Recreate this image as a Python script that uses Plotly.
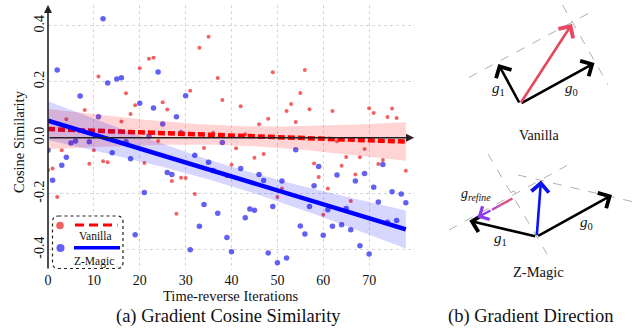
import numpy as np
import plotly.graph_objects as go

W, H = 639, 329

# ---------------- data ----------------
iters_vanilla = [0, 1, 2, 3, 4, 8, 9, 10, 11, 12, 13, 14, 16, 17, 18, 19, 20, 21, 22, 23, 24, 25,
                 26, 27, 28, 29, 30, 31, 32, 33, 34, 35, 36, 37, 38, 39, 40, 41, 42, 43, 45, 46,
                 47, 48, 49, 50, 51, 52, 53, 54, 55, 56, 57, 58, 59, 60, 61, 62, 63, 64, 65, 66,
                 67, 68, 69, 70, 71, 72, 73, 74, 75, 76, 78]
cos_vanilla = [-0.115, -0.11, -0.212, -0.045, 0.066, 0.099, -0.093, -0.045, 0.219, -0.084, -0.088,
               -0.007, 0.058, 0.159, 0.085, 0.116, 0.248, -0.09, 0.282, 0.286, -0.012, 0.127,
               0.101, -0.155, -0.272, -0.143, -0.144, 0.168, -0.201, 0.321, -0.037, 0.361, 0.018,
               0.213, 0.135, -0.138, -0.097, -0.038, 0.112, 0.012, -0.072, 0.048, -0.058, 0.068,
               0.234, -0.212, -0.181, 0.095, 0.120, 0.056, 0.160, 0.242, 0.102, -0.092, -0.14,
               -0.275, -0.181, 0.095, -0.013, -0.1, -0.069, -0.226, -0.131, -0.07, -0.04, 0.105,
               0.088, -0.094, -0.08, 0.074, 0.104, 0.070, -0.118]

iters_zmagic = [0, 1, 2, 3, 4, 5, 6, 7, 9, 11, 12, 13, 14, 15, 16, 17, 18, 19, 20, 21, 22, 23, 24,
                25, 26, 27, 28, 29, 30, 31, 32, 33, 34, 35, 36, 37, 38, 39, 40, 42, 43, 44, 45,
                46, 47, 48, 49, 50, 51, 52, 54, 55, 56, 57, 58, 59, 60, 61, 62, 63, 64, 65, 66,
                67, 68, 69, 70, 71, 72, 73, 74, 75, 76, 77, 78]
cos_zmagic = [-0.045, -0.152, 0.242, -0.098, -0.07, -0.019, -0.012, 0.149, -0.014, 0.075, 0.425,
              0.195, -0.054, 0.21, 0.214, -0.014, -0.075, -0.347, 0.123, -0.196, 0.006, 0.106,
              0.235, 0.049, -0.124, -0.131, 0.075, 0.018, 0.15, -0.40, -0.063, -0.316, -0.239,
              -0.088, -0.117, -0.27, -0.017, -0.356, -0.407, -0.11, -0.286, -0.255, -0.259,
              -0.131, -0.153, -0.412, -0.246, -0.447, -0.155, -0.43, -0.043, -0.315, -0.344,
              -0.246, -0.172, -0.103, -0.348, -0.257, -0.316, -0.133, -0.311, -0.253, -0.329,
              -0.155, -0.386, -0.128, -0.415, -0.177, -0.23, -0.096, -0.302, -0.193, -0.296,
              -0.201, -0.232]

x_tick_vals = [0, 10, 20, 30, 40, 50, 60, 70]
y_tick_vals = [-0.4, -0.2, 0.0, 0.2, 0.4]
y_tick_text = ["-0.4", "-0.2", "0.0", "0.2", "0.4"]

series_names = ["Vanilla", "Z-Magic"]

FONT = "Liberation Serif"


def P(x, y):
    """pixel -> paper coordinates (margins are zero)"""
    return x / W, 1 - y / H


def fit_band(x, y):
    x = np.asarray(x, float)
    y = np.asarray(y, float)
    b, a = np.polyfit(x, y, 1)
    xs = np.linspace(x.min(), x.max(), 100)
    yhat = a + b * xs
    n = len(x)
    res = y - (a + b * x)
    s = np.sqrt((res ** 2).sum() / (n - 2))
    sxx = ((x - x.mean()) ** 2).sum()
    se = s * np.sqrt(1 / n + (xs - x.mean()) ** 2 / sxx)
    t = 1.99
    return xs, yhat, yhat - t * se, yhat + t * se


fig = go.Figure()

styles = [
    dict(x=iters_vanilla, y=cos_vanilla, pt="rgba(240,70,70,0.85)", size=4,
         band="rgba(255,0,0,0.17)", line=dict(color="#ff0000", width=4.5, dash="7px,3px")),
    dict(x=iters_zmagic, y=cos_zmagic, pt="rgba(70,70,240,0.85)", size=5.5,
         band="rgba(0,0,255,0.16)", line=dict(color="#0000ff", width=4.5)),
]

for name, st in zip(series_names, styles):
    fig.add_trace(go.Scatter(x=st["x"], y=st["y"], mode="markers", name=name,
                             marker=dict(color=st["pt"], size=st["size"]),
                             showlegend=False, xaxis="x", yaxis="y"))
for name, st in zip(series_names, styles):
    xs, yhat, lo, hi = fit_band(st["x"], st["y"])
    fig.add_trace(go.Scatter(x=np.concatenate([xs, xs[::-1]]), y=np.concatenate([hi, lo[::-1]]),
                             fill="toself", fillcolor=st["band"], line=dict(width=0),
                             mode="lines", showlegend=False, hoverinfo="skip"))
    fig.add_trace(go.Scatter(x=xs, y=yhat, mode="lines", line=st["line"], showlegend=False))

ann = []
shapes = []

# axis arrows (x at y=0, y at x=0)
ann.append(dict(x=79.8, y=0, ax=0, ay=0, xref="x", yref="y", axref="x", ayref="y",
                showarrow=True, arrowhead=2, arrowsize=1, arrowwidth=1.6, arrowcolor="#222",
                text=""))
ann.append(dict(x=0, y=0.474, ax=0, ay=-0.4725, xref="x", yref="y", axref="x", ayref="y",
                showarrow=True, arrowhead=2, arrowsize=1, arrowwidth=1.6, arrowcolor="#222",
                text=""))


def text(x, y, s, size, angle=0, color="#111", italic=False):
    px, py = P(x, y)
    ann.append(dict(x=px, y=py, xref="paper", yref="paper", text=s, showarrow=False,
                    textangle=angle, xanchor="center", yanchor="middle",
                    font=dict(family=FONT, size=size, color=color,
                              style="italic" if italic else "normal")))


# axis titles and captions
text(19, 142, "Cosine Similarity", 14.5, angle=-90)
text(231, 296, "Time-reverse Iterations", 14.5)
text(228, 316, "(a) Gradient Cosine Similarity", 18.5)
text(530, 316, "(b) Gradient Direction", 18.5)

# ---- legend box ----
def rounded_rect(x0, y0, x1, y1, r):
    a, b = P(x0, y0)
    c, d = P(x1, y1)
    rx, ry = r / W, r / H
    path = (f"M {a+rx},{b} L {c-rx},{b} Q {c},{b} {c},{b-ry} L {c},{d+ry} Q {c},{d} {c-rx},{d} "
            f"L {a+rx},{d} Q {a},{d} {a},{d+ry} L {a},{b-ry} Q {a},{b} {a+rx},{b} Z")
    return path


shapes.append(dict(type="path", xref="paper", yref="paper", path=rounded_rect(52.5, 216, 123, 268.5, 6),
                   line=dict(color="#222", width=1.2, dash="dot"), fillcolor="white", layer="above"))


def circle(cx, cy, r, color):
    x0, y0 = P(cx - r, cy + r)
    x1, y1 = P(cx + r, cy - r)
    shapes.append(dict(type="circle", xref="paper", yref="paper", x0=x0, y0=y0, x1=x1, y1=y1,
                       fillcolor=color, line=dict(width=0), layer="above"))


def seg(x0, y0, x1, y1, color, width, dash="solid"):
    a, b = P(x0, y0)
    c, d = P(x1, y1)
    shapes.append(dict(type="line", xref="paper", yref="paper", x0=a, y0=b, x1=c, y1=d,
                       line=dict(color=color, width=width, dash=dash), layer="above"))


circle(60, 225.5, 3.8, "rgba(240,80,80,0.9)")
seg(75, 225, 117.5, 225, "#ff0000", 3, "9px,5px")
text(95.5, 236, series_names[0], 11.5)
circle(60.5, 248, 4, "rgba(80,80,240,0.9)")
seg(74, 247.7, 120, 247.7, "#0000ff", 3.5)
text(94, 261, series_names[1], 11.5)

# ---- right panel: gradient diagrams ----
DASH_C = "#b0b0b0"


def arrow(x0, y0, x1, y1, color, width=2.6, size=1.3):
    px, py = P(x1, y1)
    ann.append(dict(x=px, y=py, xref="paper", yref="paper", ax=x0 - x1, ay=y0 - y1,
                    showarrow=True, arrowhead=4, arrowsize=size, arrowwidth=width,
                    arrowcolor=color, text=""))


# Vanilla
seg(469, 77.5, 593, 11, DASH_C, 1, "dash")
seg(562.5, 5, 608, 84.5, DASH_C, 1, "dash")
arrow(520, 104, 498.3, 64, "#000")
arrow(520, 104, 594.5, 63, "#000")
arrow(520, 104, 572, 24, "#e8475f")
text(498, 89, "<i>g</i><sub>1</sub>", 15)
text(571, 89, "<i>g</i><sub>0</sub>", 15)
text(538.5, 135, series_names[0], 14)

# Z-Magic
seg(488, 154, 547, 254, DASH_C, 1, "dash")
seg(449, 230, 567, 165.5, DASH_C, 1, "dash")
seg(518, 175, 634, 202, DASH_C, 1, "dash")
arrow(536.7, 236.7, 469.3, 220.7, "#000")
arrow(536.7, 236.7, 612, 195, "#000")
arrow(536.7, 236.7, 541, 180.5, "#0a14f0")
seg(512.5, 198.5, 501, 204.8, "#e0507a", 2.4)
seg(501, 204.8, 492, 209.7, "#c048b8", 2.4)
arrow(492, 209.7, 477.5, 217.5, "#8a3cf0", 2.4, 1.2)
# right-angle mark
ux, uy = 0.879, -0.477
vx, vy = -0.508, -0.861
cx0, cy0 = 512.7, 195.6
sq = [(cx0 + 3.5 * ux, cy0 + 3.5 * uy), (cx0 + 3.5 * ux + 3.5 * vx, cy0 + 3.5 * uy + 3.5 * vy),
      (cx0 + 3.5 * vx, cy0 + 3.5 * vy)]
pp = [P(*q) for q in sq]
shapes.append(dict(type="path", xref="paper", yref="paper",
                   path=f"M {pp[0][0]},{pp[0][1]} L {pp[1][0]},{pp[1][1]} L {pp[2][0]},{pp[2][1]}",
                   line=dict(color="#999", width=0.8)))
text(476, 194, "<i>g</i><sub><i>refine</i></sub>", 14)
text(500.5, 239.5, "<i>g</i><sub>1</sub>", 15)
text(586.5, 222.5, "<i>g</i><sub>0</sub>", 15)
text(538.5, 272, series_names[1], 14.5)

fig.update_layout(
    width=W, height=H,
    margin=dict(l=0, r=0, t=0, b=0, pad=0),
    paper_bgcolor="white", plot_bgcolor="white",
    font=dict(family=FONT, color="#111"),
    xaxis=dict(domain=[48 / W, 415 / W], range=[0, 80], tickvals=x_tick_vals,
               showgrid=True, gridcolor="#d6d6d6", griddash="dot", gridwidth=1,
               zeroline=False, showline=False, ticks="", automargin=False,
               tickfont=dict(family=FONT, size=14, color="#111")),
    yaxis=dict(domain=[1 - 270 / H, 1 - 5 / H], range=[-0.4725, 0.474], tickvals=y_tick_vals,
               ticktext=y_tick_text, tickangle=-90,
               showgrid=True, gridcolor="#d6d6d6", griddash="dot", gridwidth=1,
               zeroline=False, showline=False, ticks="", automargin=False,
               tickfont=dict(family=FONT, size=14, color="#111")),
    annotations=ann,
    shapes=shapes,
    showlegend=False,
)

fig.write_html("out.html", config={"displayModeBar": False},
               post_script="document.body.style.margin='0';document.body.style.padding='0';")
